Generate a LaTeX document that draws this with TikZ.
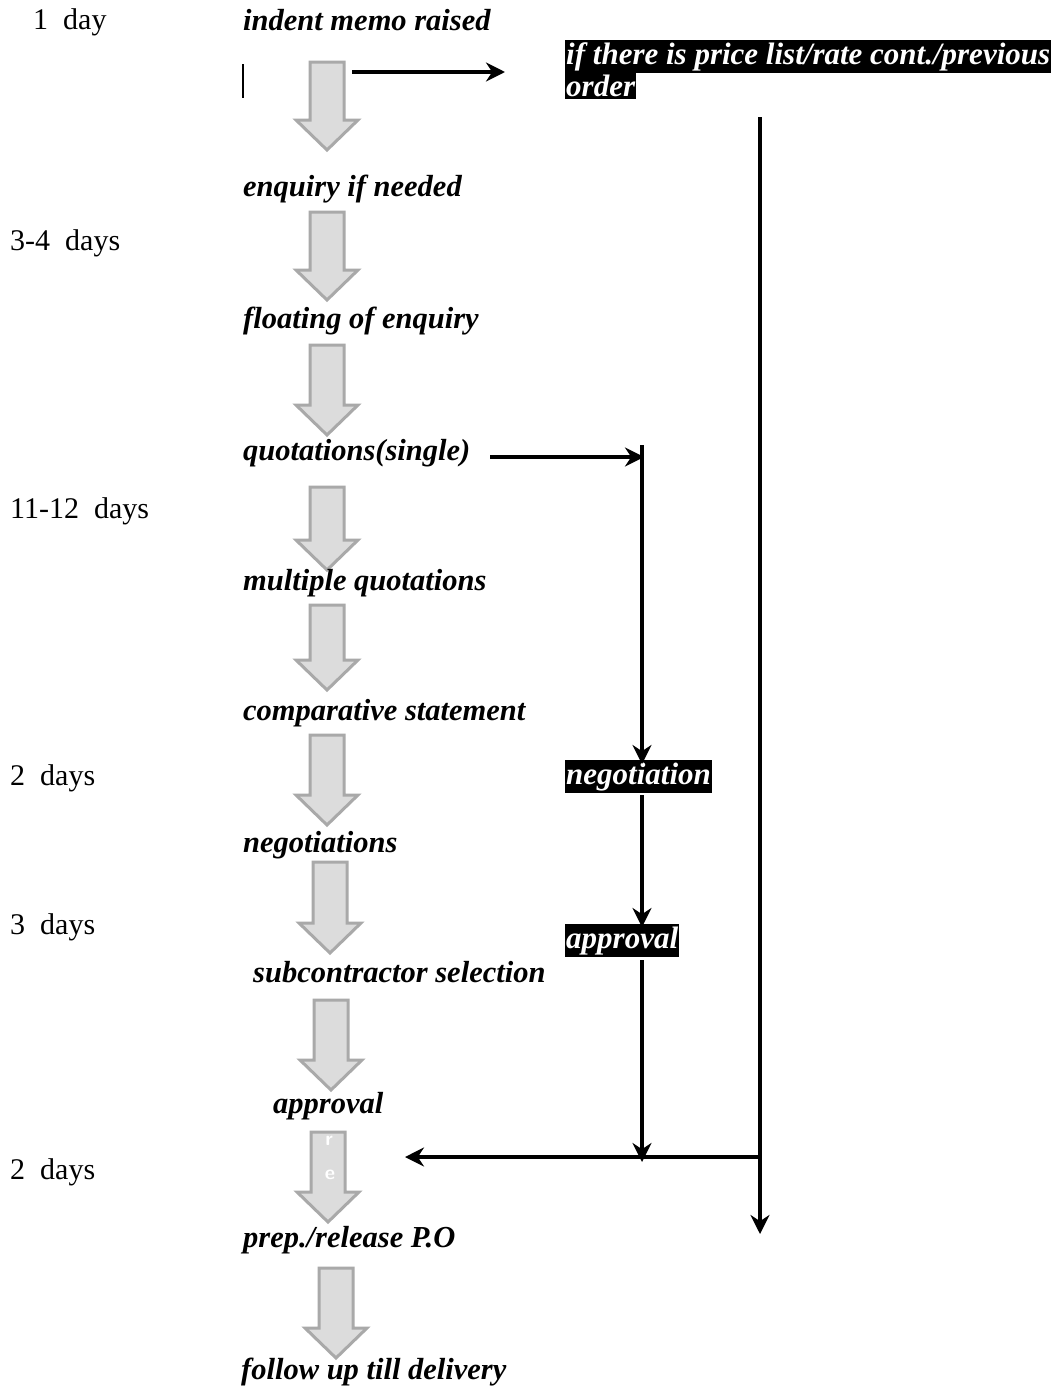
\documentclass[tikz,border=0pt]{standalone}
\usepackage{fontspec}
\setmainfont{Liberation Serif}
\newfontfamily\dayfont[WordSpace=2]{Liberation Serif}
\usetikzlibrary{arrows.meta}
\definecolor{blkfill}{HTML}{DCDCDC}
\definecolor{blkline}{HTML}{A9A9A9}
\tikzset{
  days/.style={anchor=base west, inner sep=0pt, font=\dayfont\fontsize{30}{32}\selectfont},
  stepname/.style={anchor=base west, inner sep=0pt, font=\fontsize{30.5}{32}\selectfont\bfseries\itshape},
  hilite/.style={anchor=base west, fill=black, text=white, inner xsep=1pt, inner ysep=2.5pt, font=\fontsize{31}{32}\selectfont\bfseries\itshape},
  flow/.style={line width=4pt, -{Stealth[length=19pt,width=19pt]}},
  blockarrow/.style={fill=blkfill, draw=blkline, line width=3pt, line join=miter},
}
% block arrow: center x, top y, tip y
\newcommand\blockarr[3]{%
  \pgfmathsetmacro\hb{#3-30}%
  \draw[blockarrow] (#1-17,#2) -- (#1+17,#2) -- (#1+17,\hb) -- (#1+31,\hb) -- (#1,#3) -- (#1-31,\hb) -- (#1-17,\hb) -- cycle;}
\begin{document}
\begin{tikzpicture}[x=1pt,y=-1pt]
\useasboundingbox[fill=white] (0,0) rectangle (1064,1387);

% day labels
\node[days] (d1) at (33,29) {1 day};
\node[days] (d2) at (10,250) {3-4 days};
\node[days] (d3) at (10,518) {11-12 days};
\node[days] (d4) at (10,785) {2 days};
\node[days] (d5) at (10,934) {3 days};
\node[days] (d6) at (10,1179) {2 days};

% block arrows
\blockarr{327}{62}{150}
\blockarr{327}{212}{300}
\blockarr{327}{345}{435}
\blockarr{327}{487}{570}
\blockarr{327}{605}{690}
\blockarr{327}{735}{825}
\blockarr{330}{862}{953}
\blockarr{331}{1000}{1090}
\blockarr{328}{1132}{1222}
\blockarr{336}{1268}{1358}
\node[text=white, font=\fontsize{20}{22}\selectfont\bfseries\sffamily] (r1) at (329,1141) {r};
\node[text=white, font=\fontsize{20}{22}\selectfont\bfseries\sffamily] (r2) at (330,1175) {e};

% cursor bar
\draw[line width=2pt] (243,64) coordinate (c1) -- (243,98) coordinate (c2);

% step names
\node[stepname] (s1) at (243,30) {indent memo raised};
\node[stepname] (s2) at (243,196) {enquiry if needed};
\node[stepname] (s3) at (243,328) {floating of enquiry};
\node[stepname] (s4) at (243,460) {quotations(single)};
\node[stepname] (s5) at (243,590) {multiple quotations};
\node[stepname] (s6) at (243,720) {comparative statement};
\node[stepname] (s7) at (243,852) {negotiations};
\node[stepname] (s8) at (253,982) {subcontractor selection};
\node[stepname] (s9) at (273,1113) {approval};
\node[stepname] (s10) at (243,1247) {prep./release P.O};
\node[stepname] (s11) at (241,1379) {follow up till delivery};

% highlighted labels
\node[hilite] (h1) at (565,64) {if there is price list/rate cont./previous};
\node[hilite] (h2) at (565,96) {order};
\node[hilite] (neg) at (565,784) {negotiation};
\node[hilite] (app) at (565,948) {approval};

% coordinates
\coordinate (a0) at (352,72);
\coordinate (a1) at (505,72);
\coordinate (v0) at (760,117);
\coordinate (v1) at (760,1234);
\coordinate (vj) at (760,1157);
\coordinate (pl) at (405,1157);
\coordinate (q0) at (490,457);
\coordinate (q1) at (644,457);
\coordinate (n0) at (642,445);
\coordinate (n1) at (642,764);
\coordinate (m0) at (642,795);
\coordinate (m1) at (642,927);
\coordinate (k0) at (642,960);
\coordinate (k1) at (642,1162);

% connectors
\draw[flow] (a0) -- (a1);
\draw[flow] (v0) -- (v1);
\draw[flow] (vj) -- (pl);
\draw[flow] (q0) -- (q1);
\draw[flow] (n0) -- (n1);
\draw[flow] (m0) -- (m1);
\draw[flow] (k0) -- (k1);
\end{tikzpicture}
\end{document}
